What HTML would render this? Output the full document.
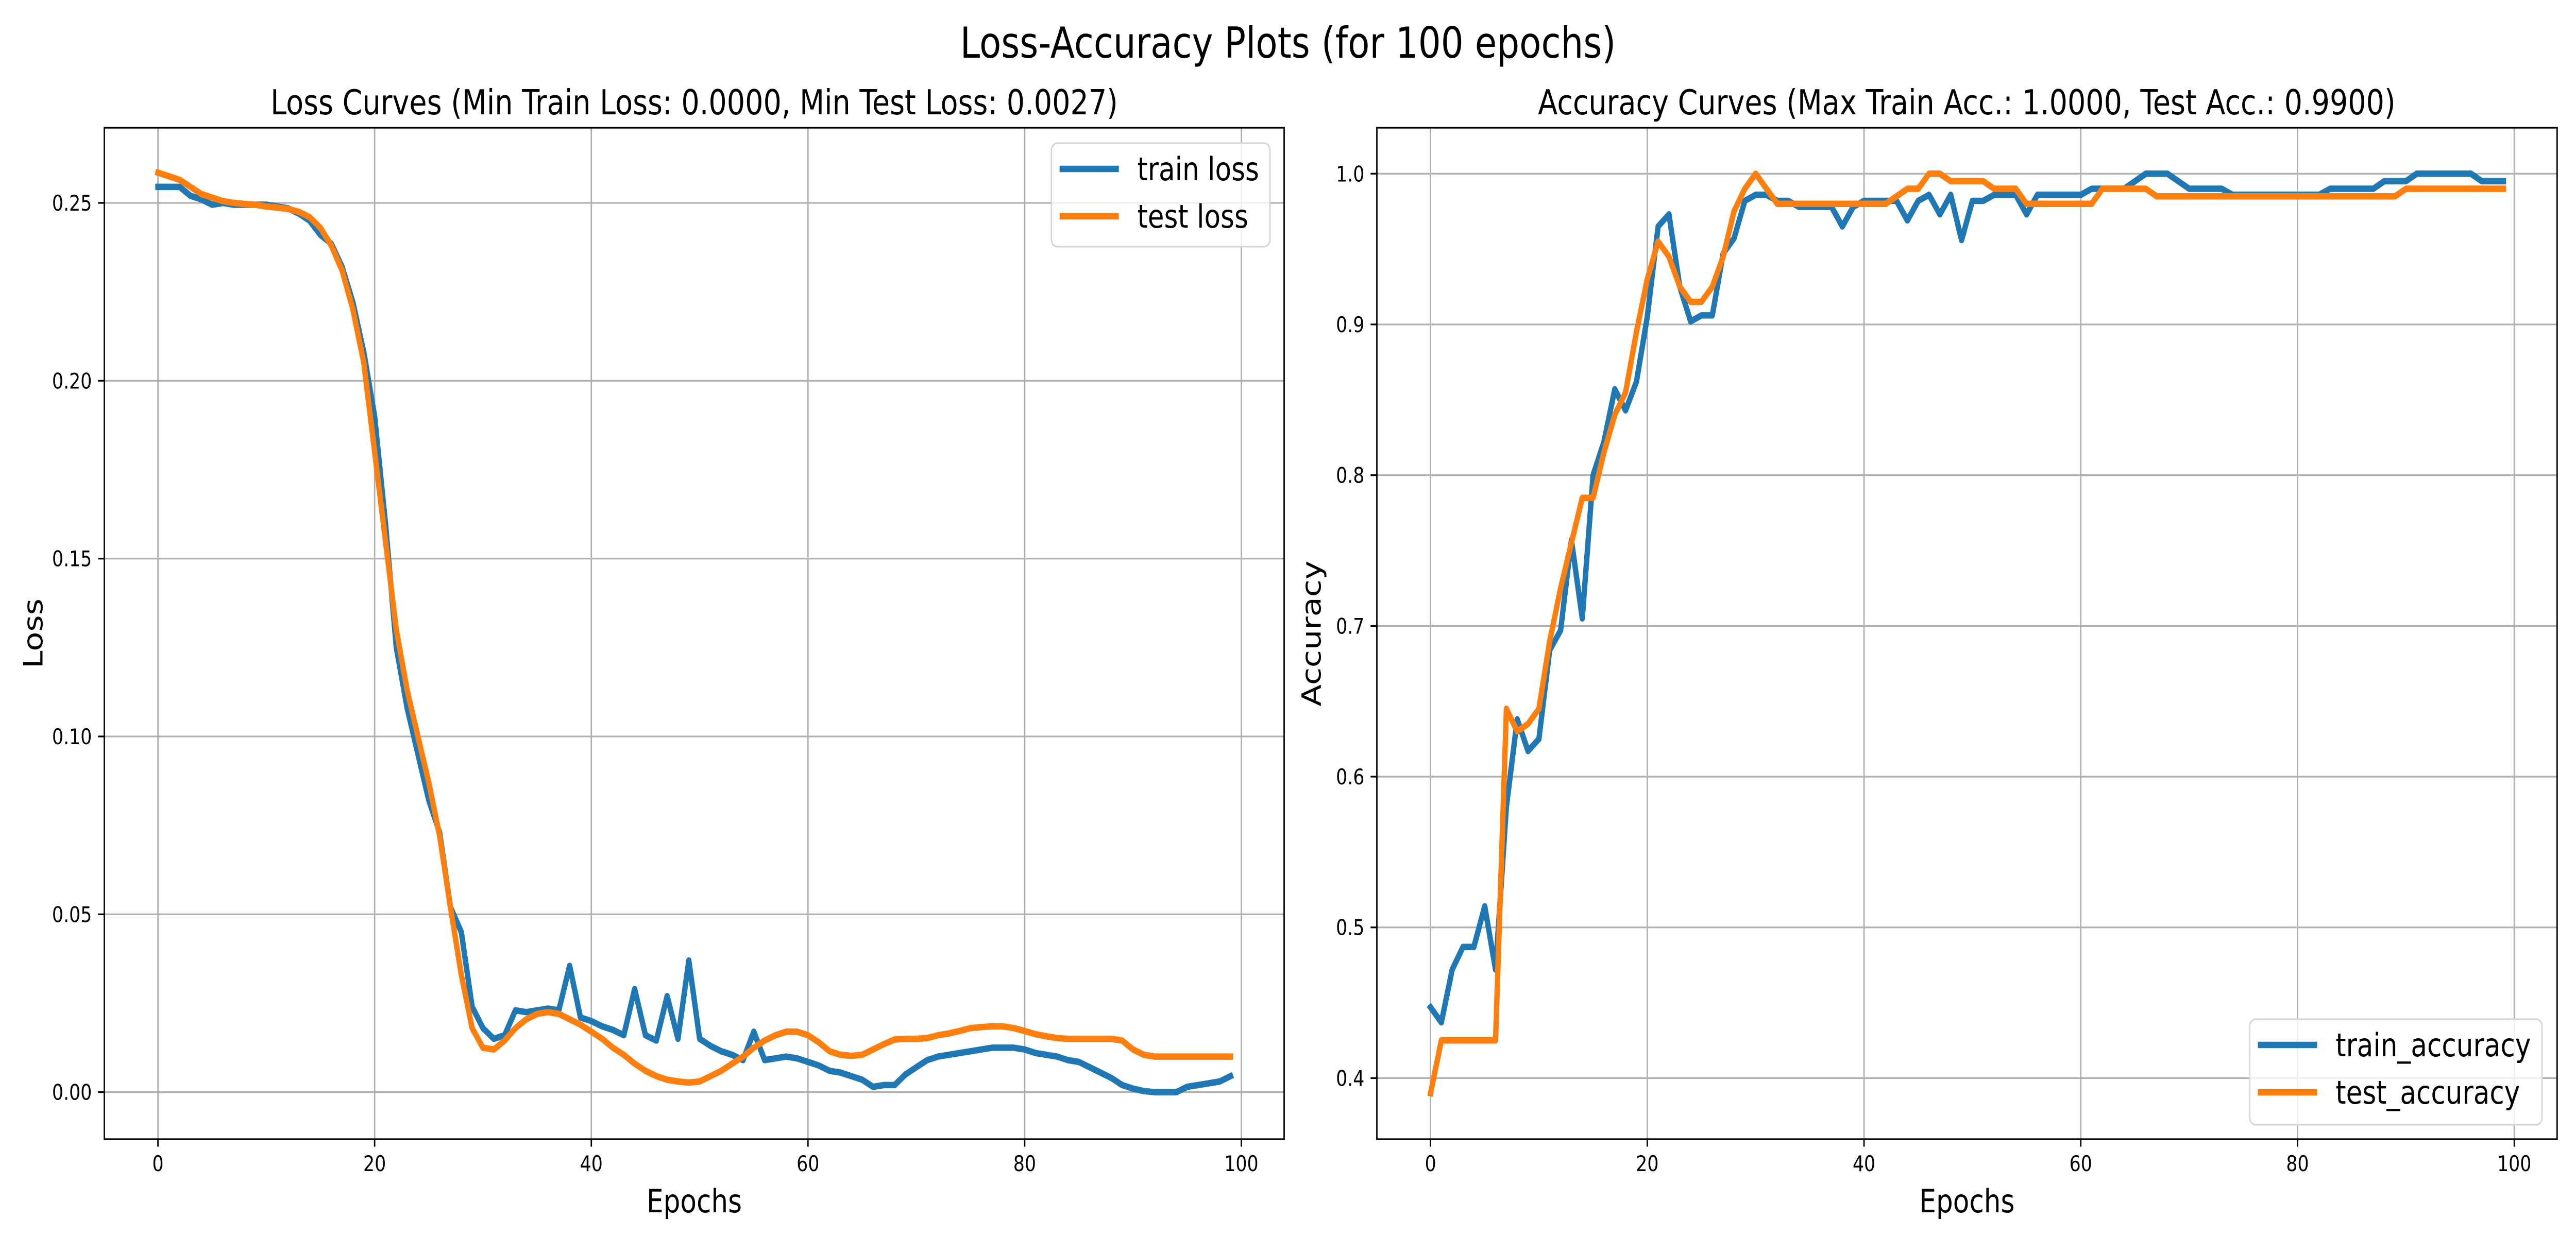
<!DOCTYPE html>
<html><head><meta charset="utf-8">
<style>
html,body{margin:0;padding:0;background:#fff;width:100%;height:100%;overflow:hidden;}
svg{display:block;font-family:"DejaVu Sans","Liberation Sans",sans-serif;width:100vw;height:100vh;}
</style></head>
<body>
<svg id="fig" xmlns="http://www.w3.org/2000/svg" viewBox="0 0 6000 2400" preserveAspectRatio="none">
<rect width="6000" height="2400" fill="#fff"/>
<defs>
<clipPath id="clipL"><rect x="243" y="248" width="2748" height="1964"/></clipPath>
<clipPath id="clipR"><rect x="3207" y="248" width="2749" height="1964"/></clipPath>
</defs>
<text x="3000" y="112" font-size="83" text-anchor="middle">Loss-Accuracy Plots (for 100 epochs)</text>
<text x="1617" y="222" font-size="66.7" text-anchor="middle">Loss Curves (Min Train Loss: 0.0000, Min Test Loss: 0.0027)</text>
<text x="4581" y="222" font-size="66.7" text-anchor="middle">Accuracy Curves (Max Train Acc.: 1.0000, Test Acc.: 0.9900)</text>
<g id="gL"></g>
<g id="gR"></g>
</svg>
<script>
const epochs = Array.from({length:100},(_,i)=>i);
const trainLoss = [0.2545,0.2545,0.2545,0.252,0.251,0.2495,0.250,0.2495,0.2495,0.2495,0.2495,0.249,0.2485,0.247,0.245,0.241,0.2385,0.232,0.222,0.208,0.19,0.16,0.125,0.108,0.095,0.082,0.073,0.052,0.045,0.024,0.018,0.015,0.016,0.023,0.0225,0.023,0.0235,0.023,0.0355,0.021,0.02,0.0185,0.0175,0.016,0.029,0.016,0.0145,0.027,0.015,0.037,0.015,0.013,0.0115,0.0105,0.009,0.017,0.009,0.0095,0.01,0.0095,0.0085,0.0075,0.006,0.0055,0.0045,0.0035,0.0015,0.002,0.002,0.005,0.007,0.009,0.01,0.0105,0.011,0.0115,0.012,0.0125,0.0125,0.0125,0.012,0.011,0.0105,0.01,0.009,0.0085,0.007,0.0055,0.004,0.002,0.001,0.0003,0,0,0,0.0015,0.002,0.0025,0.003,0.0045];
const testLoss = [0.2585,0.2575,0.2565,0.2545,0.2525,0.2515,0.2505,0.25,0.2497,0.2495,0.249,0.2487,0.2483,0.2475,0.246,0.243,0.238,0.231,0.22,0.205,0.18,0.155,0.13,0.113,0.1,0.087,0.072,0.052,0.033,0.018,0.0125,0.012,0.0145,0.018,0.0205,0.022,0.0225,0.022,0.0205,0.019,0.017,0.015,0.0125,0.0105,0.008,0.006,0.0045,0.0035,0.003,0.0027,0.003,0.0045,0.006,0.008,0.01,0.0125,0.0145,0.016,0.017,0.017,0.016,0.014,0.0115,0.0105,0.0102,0.0105,0.012,0.0135,0.0148,0.015,0.015,0.0152,0.016,0.0165,0.0172,0.018,0.0183,0.0185,0.0185,0.018,0.0172,0.0163,0.0157,0.0152,0.015,0.015,0.015,0.015,0.015,0.0145,0.012,0.0105,0.01,0.01,0.01,0.01,0.01,0.01,0.01,0.01];
const trainAcc = [0.447,0.437,0.472,0.487,0.487,0.514,0.472,0.58,0.638,0.617,0.625,0.684,0.697,0.757,0.705,0.80,0.822,0.857,0.843,0.862,0.905,0.965,0.973,0.925,0.902,0.906,0.906,0.947,0.957,0.982,0.986,0.986,0.982,0.982,0.978,0.978,0.978,0.978,0.965,0.978,0.982,0.982,0.982,0.982,0.969,0.982,0.986,0.973,0.986,0.956,0.982,0.982,0.986,0.986,0.986,0.973,0.986,0.986,0.986,0.986,0.986,0.99,0.99,0.99,0.99,0.995,1.0,1.0,1.0,0.995,0.99,0.99,0.99,0.99,0.986,0.986,0.986,0.986,0.986,0.986,0.986,0.986,0.986,0.99,0.99,0.99,0.99,0.99,0.995,0.995,0.995,1.0,1.0,1.0,1.0,1.0,1.0,0.995,0.995,0.995];
const testAcc = [0.39,0.425,0.425,0.425,0.425,0.425,0.425,0.645,0.63,0.635,0.645,0.69,0.725,0.755,0.785,0.785,0.815,0.84,0.855,0.895,0.93,0.955,0.945,0.925,0.915,0.915,0.925,0.945,0.975,0.99,1.0,0.99,0.98,0.98,0.98,0.98,0.98,0.98,0.98,0.98,0.98,0.98,0.98,0.985,0.99,0.99,1.0,1.0,0.995,0.995,0.995,0.995,0.99,0.99,0.99,0.98,0.98,0.98,0.98,0.98,0.98,0.98,0.99,0.99,0.99,0.99,0.99,0.985,0.985,0.985,0.985,0.985,0.985,0.985,0.985,0.985,0.985,0.985,0.985,0.985,0.985,0.985,0.985,0.985,0.985,0.985,0.985,0.985,0.985,0.985,0.99,0.99,0.99,0.99,0.99,0.99,0.99,0.99,0.99,0.99];
const xTicks = [0,20,40,60,80,100];
const lossTicks = [0,0.05,0.10,0.15,0.20,0.25];
const lossTickLabels = ["0.00","0.05","0.10","0.15","0.20","0.25"];
const accTicks = [0.4,0.5,0.6,0.7,0.8,0.9,1.0];
const accTickLabels = ["0.4","0.5","0.6","0.7","0.8","0.9","1.0"];

const NS="http://www.w3.org/2000/svg";
function mk(parent,tag,attrs,text){const e=document.createElementNS(NS,tag);for(const k in attrs)e.setAttribute(k,attrs[k]);if(text!==undefined)e.textContent=text;parent.appendChild(e);return e;}

function drawChart(g,box,xDom,yDom,ticksY,ticksYLab,series,clip,ylabel,ylabelX,legend){
  const sx=v=>box.x+(v-xDom[0])/(xDom[1]-xDom[0])*box.w;
  const sy=v=>box.y+box.h-(v-yDom[0])/(yDom[1]-yDom[0])*box.h;
  xTicks.forEach(t=>{
    const l=mk(g,'line',{x1:sx(t),x2:sx(t),y1:box.y,y2:box.y+box.h,stroke:'#b0b0b0','stroke-width':3.3});
    
    
  });
  ticksY.forEach(t=>{
    const l=mk(g,'line',{x1:box.x,x2:box.x+box.w,y1:sy(t),y2:sy(t),stroke:'#b0b0b0','stroke-width':3.3});
    
    
  });
  series.forEach(s=>{
    const d=s.data.map((v,i)=>(i?'L':'M')+sx(epochs[i]).toFixed(1)+' '+sy(v).toFixed(1)).join(' ');
    const p=mk(g,'path',{d:d,fill:'none',stroke:s.color,'stroke-width':12.5,'stroke-linejoin':'round','stroke-linecap':'square','clip-path':'url(#'+clip+')'});
    
    
  });
  const fr=mk(g,'rect',{x:box.x,y:box.y,width:box.w,height:box.h,fill:'none',stroke:'#000','stroke-width':3.3});
  
  
  xTicks.forEach(t=>{
    mk(g,'line',{x1:sx(t),x2:sx(t),y1:box.y+box.h,y2:box.y+box.h+14.6,stroke:'#000','stroke-width':3.3});
    const tx=mk(g,'text',{x:sx(t),y:box.y+box.h+62,'font-size':41.7,'text-anchor':'middle'},String(t));
    
    
  });
  ticksY.forEach((t,i)=>{
    mk(g,'line',{x1:box.x-14.6,x2:box.x,y1:sy(t),y2:sy(t),stroke:'#000','stroke-width':3.3});
    const tx=mk(g,'text',{x:box.x-29,y:sy(t)+15,'font-size':41.7,'text-anchor':'end'},ticksYLab[i]);
    
    
  });
  const xl=mk(g,'text',{x:box.x+box.w/2,y:2354,'font-size':62,'text-anchor':'middle'},'Epochs');
  
  
  const cy=box.y+box.h/2;
  const yl=mk(g,'text',{x:ylabelX,y:cy,'font-size':62,'text-anchor':'middle',transform:'rotate(-90 '+ylabelX+' '+cy+')'},ylabel);
  
  
  const lg=mk(g,'g',{});
  
  
  mk(lg,'rect',{x:legend.x,y:legend.y,width:legend.w,height:legend.h,rx:14,ry:14,fill:'rgba(255,255,255,0.8)',stroke:'#d6d6d6','stroke-width':3.3});
  series.forEach((s,i)=>{
    const ry=legend.y+50+i*92;
    const e=mk(lg,'g',{});
    
    
    mk(e,'line',{x1:legend.x+19,x2:legend.x+157,y1:ry,y2:ry,stroke:s.color,'stroke-width':12.5});
    mk(e,'text',{x:legend.x+200,y:ry+22,'font-size':62},s.label);
  });
}

drawChart(document.getElementById('gL'),{x:243,y:248,w:2748,h:1964},[-4.95,103.95],[-0.01322,0.27114],lossTicks,lossTickLabels,
  [{name:'train-loss-line',label:'train loss',color:'#1f77b4',data:trainLoss},{name:'test-loss-line',label:'test loss',color:'#ff7f0e',data:testLoss}],
  'clipL','Loss',99,{x:2449,y:278,w:509,h:201});
drawChart(document.getElementById('gR'),{x:3207,y:248,w:2749,h:1964},[-4.95,103.95],[0.3595,1.0305],accTicks,accTickLabels,
  [{name:'train-accuracy-line',label:'train_accuracy',color:'#1f77b4',data:trainAcc},{name:'test-accuracy-line',label:'test_accuracy',color:'#ff7f0e',data:testAcc}],
  'clipR','Accuracy',3076,{x:5240,y:1979,w:681,h:205});
</script>
</body></html>
